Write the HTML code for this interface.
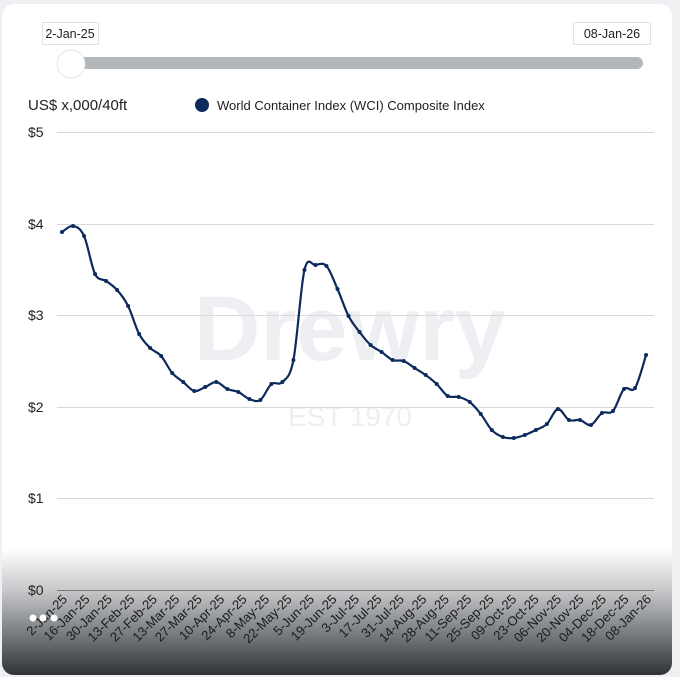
<!DOCTYPE html>
<html><head><meta charset="utf-8"><style>
html,body{margin:0;padding:0;background:#eef0f4;}
body{width:680px;height:677px;position:relative;overflow:hidden;font-family:"Liberation Sans",sans-serif;}
.card{position:absolute;left:2px;top:4px;width:670px;height:671px;border-radius:12px;background:linear-gradient(to bottom,#fff 0,#fff 545px,#c9cacc 585px,#8a8d90 620px,#2f3236 671px);overflow:hidden;}
</style></head><body>
<div class="card"></div>
<svg width="680" height="677" style="position:absolute;left:0;top:0" font-family="Liberation Sans, sans-serif">
<text x="350" y="360" font-size="92" font-weight="bold" fill="#edeff3" text-anchor="middle">Drewry</text>
<text x="350" y="426" font-size="28" fill="#edeff3" text-anchor="middle">EST 1970</text>
<rect x="42.5" y="22.5" width="56" height="22" fill="#fff" stroke="#e2e2e2"/>
<text x="70" y="38" font-size="12.5" fill="#222" text-anchor="middle">2-Jan-25</text>
<rect x="573.5" y="22.5" width="77" height="22" fill="#fff" stroke="#e2e2e2"/>
<text x="612" y="38" font-size="12.5" fill="#222" text-anchor="middle">08-Jan-26</text>
<rect x="62" y="57" width="581" height="12" rx="6" fill="#b4b7ba"/>
<circle cx="71" cy="64" r="14" fill="#fff" stroke="#e4e4e4"/>
<text x="28" y="110" font-size="15" fill="#222">US$ x,000/40ft</text>
<circle cx="202" cy="105" r="7" fill="#0d2a5c"/>
<text x="217" y="110" font-size="13" fill="#222">World Container Index (WCI) Composite Index</text>
<g stroke="#d8d8d8" stroke-width="1">
<line x1="57" x2="654" y1="132.5" y2="132.5"/><line x1="57" x2="654" y1="224.5" y2="224.5"/>
<line x1="57" x2="654" y1="315.5" y2="315.5"/><line x1="57" x2="654" y1="407.5" y2="407.5"/>
<line x1="57" x2="654" y1="498.5" y2="498.5"/></g>
<line x1="57" x2="654" y1="590.5" y2="590.5" stroke="#777"/>
<g font-size="14" fill="#222">
<text x="28" y="137">$5</text><text x="28" y="229">$4</text><text x="28" y="320">$3</text>
<text x="28" y="412">$2</text><text x="28" y="503">$1</text><text x="28" y="595">$0</text></g>
<g id="chart"></g>
<g id="xl" font-size="13" fill="#1a1a1a"></g>
<circle cx="33" cy="618" r="3.5" fill="#fff"/><circle cx="43" cy="618" r="3.5" fill="#fff"/><circle cx="54" cy="618" r="3.5" fill="#fff"/>
</svg>
<script>
var ys=[232,226,236,274,281,290,306,334,348,356,373,382,391,387,382,389,392,399,400,384,382,360,270,265,266,289,316,332,345,352,360,361,368,375,384,396,397,402,414,430,437,438,435,430,424,409,420,420,425,413,411,389,388,355];
var ns="http://www.w3.org/2000/svg",g=document.getElementById('chart');
var pts=ys.map(function(y,i){return [62+i*11.02,y];});
var d="M"+pts[0][0]+","+pts[0][1];
for(var i=0;i<pts.length-1;i++){var p0=pts[i-1]||pts[i],p1=pts[i],p2=pts[i+1],p3=pts[i+2]||p2;
d+=" C"+(p1[0]+(p2[0]-p0[0])/6)+","+(p1[1]+(p2[1]-p0[1])/6)+" "+(p2[0]-(p3[0]-p1[0])/6)+","+(p2[1]-(p3[1]-p1[1])/6)+" "+p2[0]+","+p2[1];}
var path=document.createElementNS(ns,'path');path.setAttribute('d',d);path.setAttribute('fill','none');path.setAttribute('stroke','#0d2a5c');path.setAttribute('stroke-width','2.2');g.appendChild(path);
pts.forEach(function(p){var c=document.createElementNS(ns,'circle');c.setAttribute('cx',p[0]);c.setAttribute('cy',p[1]);c.setAttribute('r','2');c.setAttribute('fill','#0d2a5c');g.appendChild(c);});
var L=["2-Jan-25","16-Jan-25","30-Jan-25","13-Feb-25","27-Feb-25","13-Mar-25","27-Mar-25","10-Apr-25","24-Apr-25","8-May-25","22-May-25","5-Jun-25","19-Jun-25","3-Jul-25","17-Jul-25","31-Jul-25","14-Aug-25","28-Aug-25","11-Sep-25","25-Sep-25","09-Oct-25","23-Oct-25","06-Nov-25","20-Nov-25","04-Dec-25","18-Dec-25","08-Jan-26"];
var xl=document.getElementById('xl');
L.forEach(function(t,k){var x=68+k*22.46,y=600;var e=document.createElementNS(ns,'text');e.setAttribute('x',x);e.setAttribute('y',y);e.setAttribute('text-anchor','end');e.setAttribute('transform','rotate(-45 '+x+' '+y+')');e.textContent=t;xl.appendChild(e);});
</script>
</body></html>
